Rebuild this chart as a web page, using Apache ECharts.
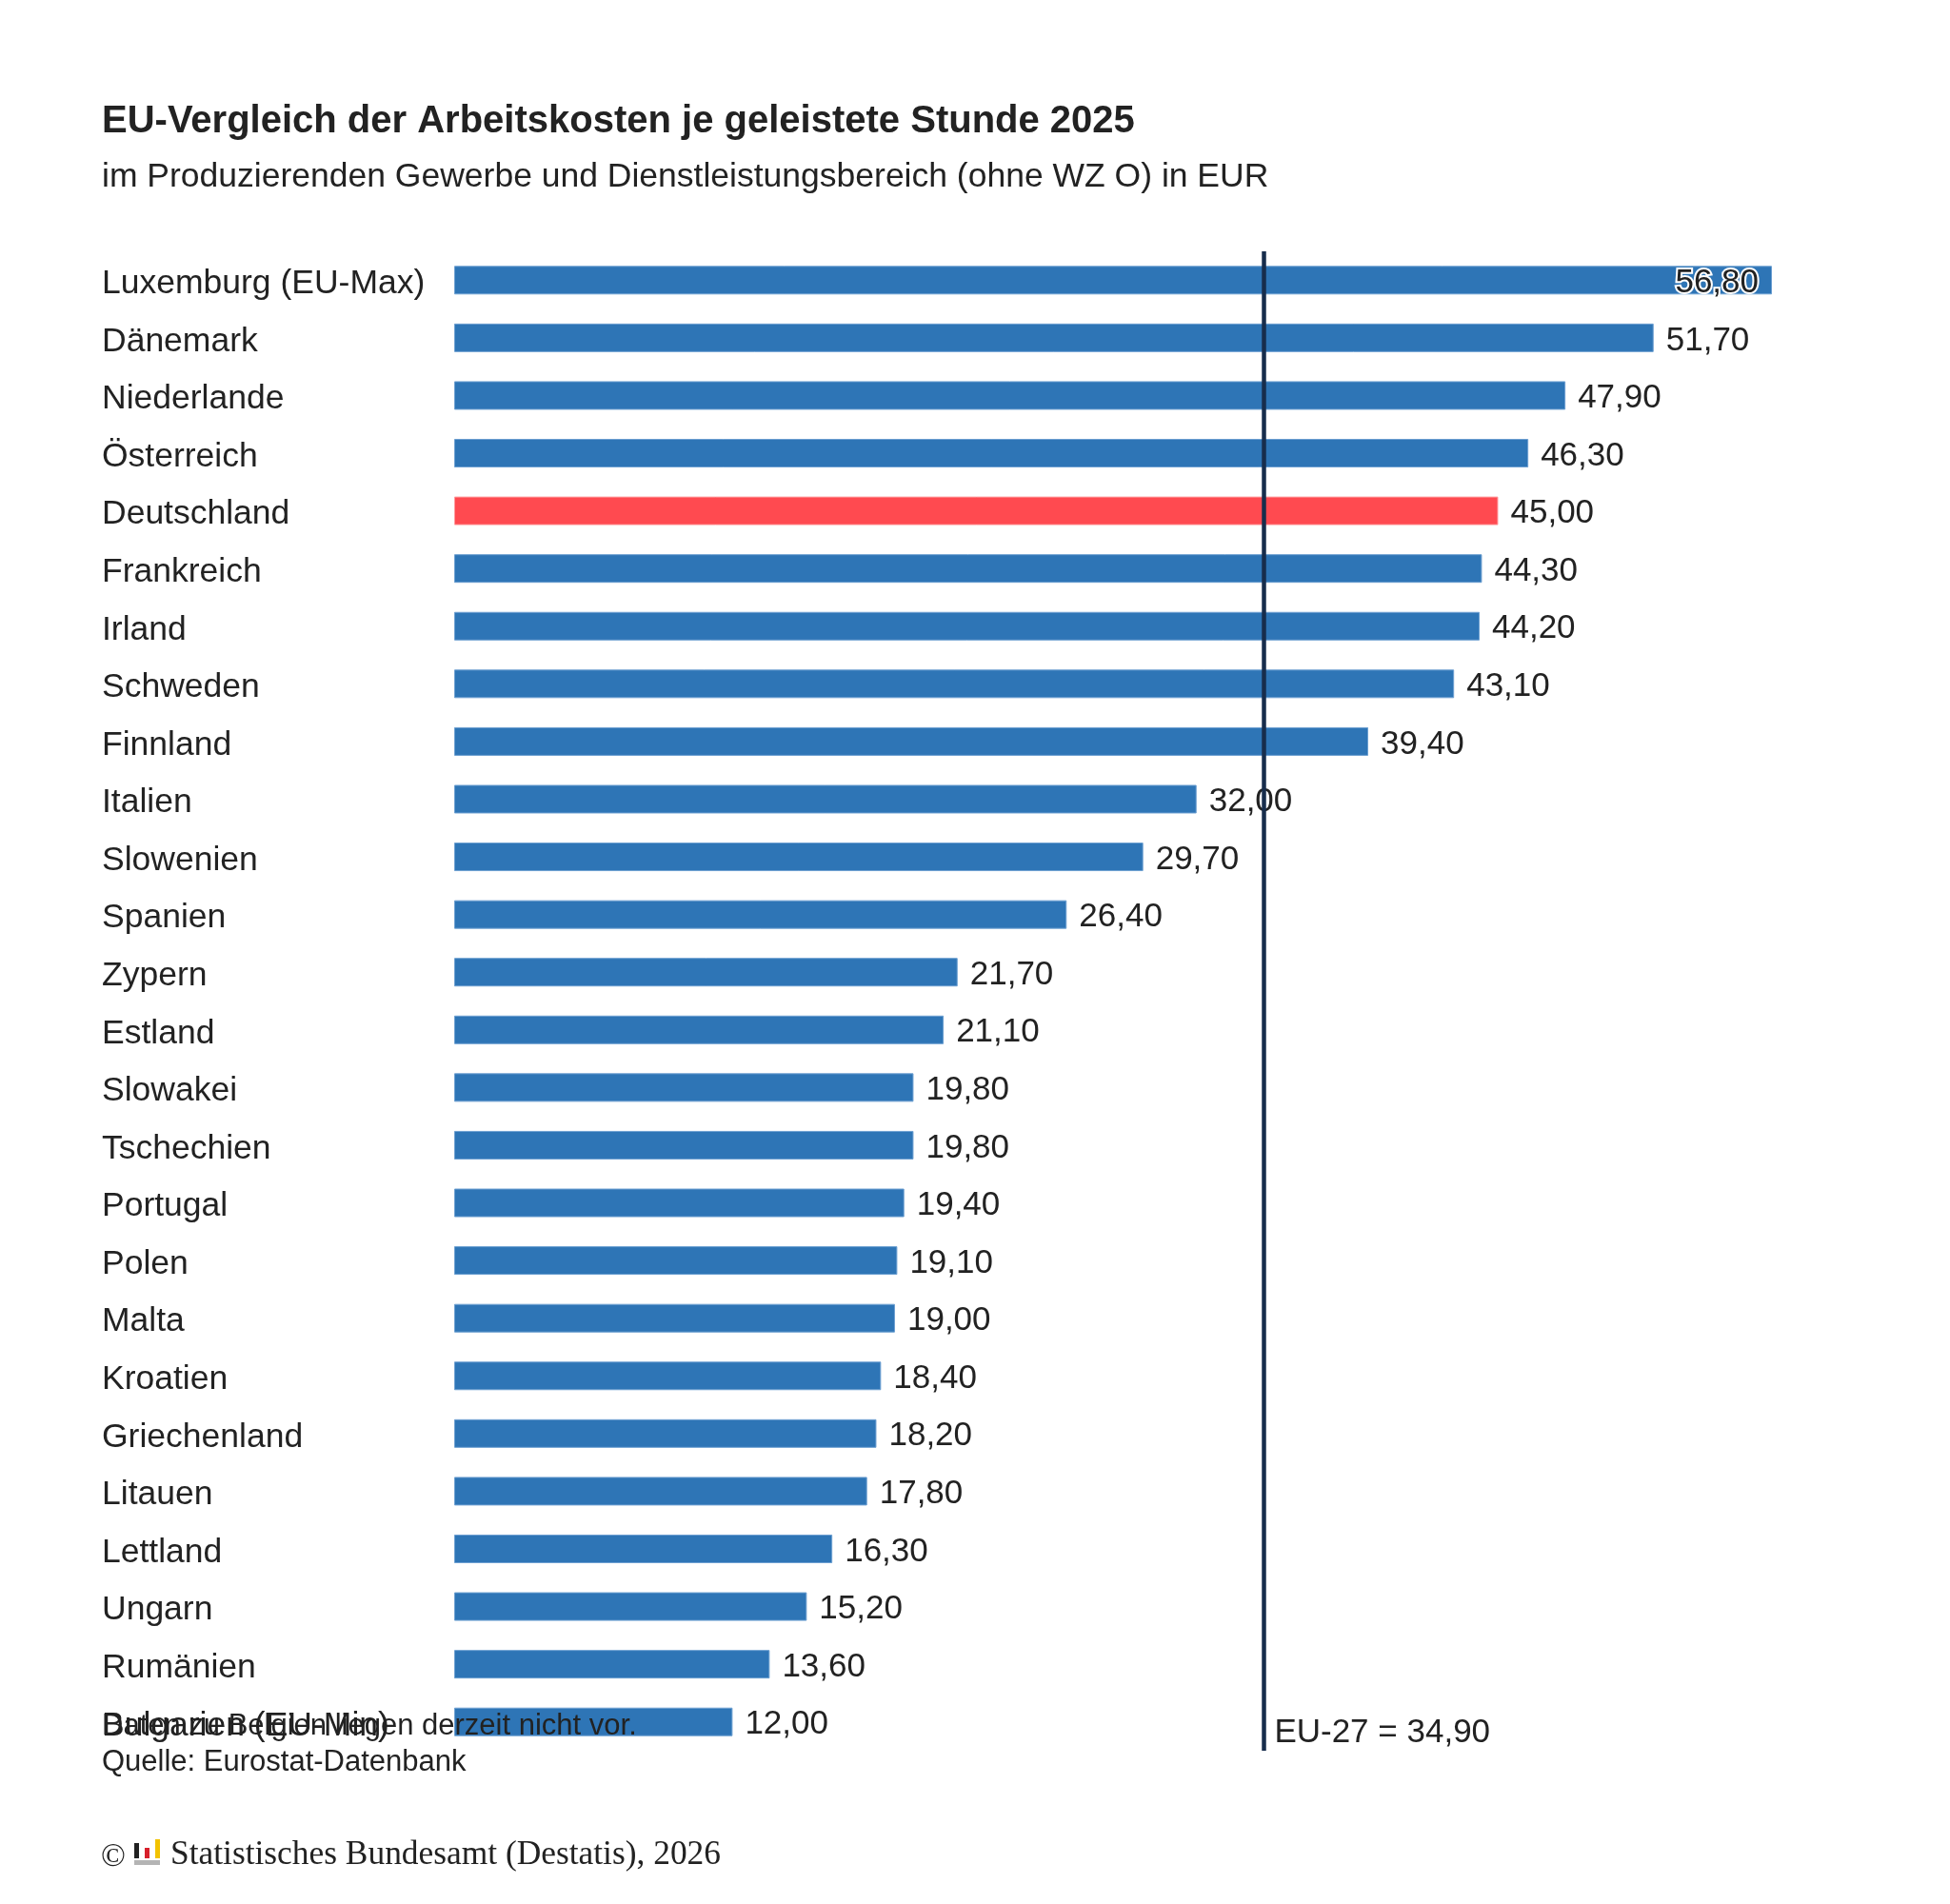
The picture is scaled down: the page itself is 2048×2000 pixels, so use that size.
<!DOCTYPE html>
<html>
<head>
<meta charset="utf-8">
<script src="https://cdn.jsdelivr.net/npm/echarts@6/dist/echarts.min.js"></script>
<style>
html,body{margin:0;padding:0;background:#fff;}
#chart{width:2048px;height:2000px;}
</style>
</head>
<body>
<div id="chart"></div>
<script>
const categories = ['Luxemburg (EU-Max)','Dänemark','Niederlande','Österreich','Deutschland','Frankreich','Irland','Schweden','Finnland','Italien','Slowenien','Spanien','Zypern','Estland','Slowakei','Tschechien','Portugal','Polen','Malta','Kroatien','Griechenland','Litauen','Lettland','Ungarn','Rumänien','Bulgarien (EU-Min)'];
const values = [56.8,51.7,47.9,46.3,45.0,44.3,44.2,43.1,39.4,32.0,29.7,26.4,21.7,21.1,19.8,19.8,19.4,19.1,19.0,18.4,18.2,17.8,16.3,15.2,13.6,12.0];
const highlightCategory = 'Deutschland';
const maxCategory = 'Luxemburg (EU-Max)';
const euAverage = 34.9;
const euLabel = 'EU-27 = ';
const titleText = 'EU-Vergleich der Arbeitskosten je geleistete Stunde 2025';
const subtitleText = 'im Produzierenden Gewerbe und Dienstleistungsbereich (ohne WZ O) in EUR';
const footnoteText = 'Daten zu Belgien liegen derzeit nicht vor.\nQuelle: Eurostat-Datenbank';
const copyrightText = 'Statistisches Bundesamt (Destatis), 2026';

const FONT = "'Liberation Sans', Arial, Helvetica, sans-serif";
const SERIF = "'Liberation Serif', 'Times New Roman', serif";
const TEXT = '#222222';
const BLUE = '#2e75b6';
const RED = '#ff4a50';
const fmt = v => v.toFixed(2).replace('.', ',');

const barData = categories.map((c, i) => {
  const item = { value: values[i] };
  if (c === highlightCategory) {
    item.itemStyle = { color: RED, borderColor: '#ff9a9d' };
  }
  if (c === maxCategory) {
    item.label = {
      position: 'insideRight', distance: 14,
      textBorderColor: '#ffffff', textBorderWidth: 4
    };
  }
  return item;
});

const chart = echarts.init(document.getElementById('chart'), null, { renderer: 'canvas' });
chart.setOption({
  backgroundColor: '#ffffff',
  animation: false,
  title: [
    { text: titleText, left: 107, top: 108, padding: 0,
      textStyle: { fontFamily: FONT, fontSize: 40, fontWeight: 'bold', color: TEXT, lineHeight: 40 } },
    { text: subtitleText, left: 107, top: 168, padding: 0,
      textStyle: { fontFamily: FONT, fontSize: 35.5, fontWeight: 'normal', color: TEXT, lineHeight: 36 } },
    { text: footnoteText, left: 107, top: 1794, padding: 0,
      textStyle: { fontFamily: FONT, fontSize: 31, fontWeight: 'normal', color: TEXT, lineHeight: 38 } }
  ],
  grid: { left: 477, right: 187, top: 264, bottom: 161, containLabel: false },
  xAxis: {
    type: 'value', min: 0, max: 'dataMax', show: false
  },
  yAxis: {
    type: 'category', data: categories, inverse: true,
    axisLine: { show: false }, axisTick: { show: false }, splitLine: { show: false },
    axisLabel: { align: 'left', verticalAlign: 'top', lineHeight: 8, margin: 370,
      fontFamily: FONT, fontSize: 35.5, color: TEXT }
  },
  series: [
    {
      type: 'bar', data: barData, barWidth: 30,
      itemStyle: { color: BLUE, borderColor: '#6c9fd1', borderWidth: 1 },
      label: {
        show: true, position: 'right', distance: 13, offset: [0, 3],
        fontFamily: FONT, fontSize: 35, color: TEXT,
        formatter: p => fmt(p.value)
      },
      markLine: {
        silent: true, symbol: ['none', 'none'],
        label: { show: false },
        lineStyle: { color: '#172d4c', width: 4.5, type: 'solid', opacity: 1 },
        data: [{ xAxis: euAverage }]
      },
      z: 2
    },
    {
      type: 'scatter', symbolSize: 0, silent: true,
      itemStyle: { opacity: 1 },
      data: [[euAverage, categories[categories.length - 1]]],
      label: {
        show: true, position: 'right', distance: 11, offset: [0, 12],
        fontFamily: FONT, fontSize: 35, color: TEXT, opacity: 1,
        formatter: p => euLabel + fmt(p.value[0])
      },
      emphasis: { disabled: true },
      z: 3
    }
  ],
  graphic: [
    { type: 'text', left: 106, top: 1934,
      style: { text: '©', font: "34px " + SERIF, fill: TEXT } },
    { type: 'rect', shape: { x: 141, y: 1936, width: 5, height: 16 }, style: { fill: '#222222' } },
    { type: 'rect', shape: { x: 152, y: 1941, width: 5, height: 11 }, style: { fill: '#d71f2b' } },
    { type: 'rect', shape: { x: 163, y: 1932, width: 5, height: 20 }, style: { fill: '#f2c200' } },
    { type: 'rect', shape: { x: 141, y: 1954, width: 27, height: 5 }, style: { fill: '#b4b4b4' } },
    { type: 'text', left: 179, top: 1931,
      style: { text: copyrightText, font: "35.4px " + SERIF, fill: TEXT } }
  ]
});
</script>
</body>
</html>
